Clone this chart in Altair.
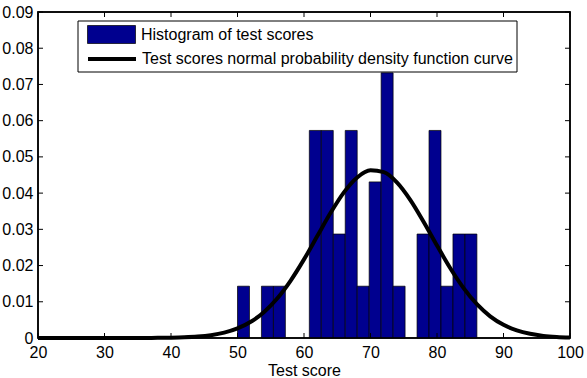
import altair as alt
import pandas as pd

FONT = "Liberation Sans"

# Histogram bins (score ranges) and heights (probability density)
bin_left = [50.0, 51.8, 53.6, 55.4, 57.2, 59.0, 60.8, 62.6, 64.4, 66.2,
            68.0, 69.8, 71.6, 73.4, 75.2, 77.0, 78.8, 80.6, 82.4, 84.2]
bin_right = [51.8, 53.6, 55.4, 57.2, 59.0, 60.8, 62.6, 64.4, 66.2, 68.0,
             69.8, 71.6, 73.4, 75.2, 77.0, 78.8, 80.6, 82.4, 84.2, 86.0]
density = [0.0143, 0.0, 0.0143, 0.0143, 0.0, 0.0, 0.0573, 0.0573, 0.0287, 0.0573,
           0.0143, 0.0431, 0.0732, 0.0143, 0.0, 0.0287, 0.0573, 0.0143, 0.0287, 0.0287]

# Normal pdf curve
curve_x = [20, 22, 24, 26, 28, 30, 32, 34, 36, 38, 40, 42, 44, 46, 48, 50, 52, 54, 56, 58,
           60, 62, 64, 66, 68, 70, 72, 74, 76, 78, 80, 82, 84, 86, 88, 90, 92, 94, 96, 98, 100]
curve_y = [0.0, 0.0, 0.0, 0.0, 0.0, 0.000001, 0.000002, 0.000005, 0.000014, 0.000035,
           0.000083, 0.000184, 0.000388, 0.000776, 0.00147, 0.00263, 0.00447, 0.00720,
           0.01098, 0.01587, 0.02170, 0.02814, 0.03456, 0.04021, 0.04432, 0.04628,
           0.04578, 0.04291, 0.03809, 0.03204, 0.02553, 0.01926, 0.01378, 0.00933,
           0.00599, 0.00364, 0.00210, 0.00115, 0.00059, 0.00029, 0.00013]

x_ticks = [20, 30, 40, 50, 60, 70, 80, 90, 100]
y_ticks = [0, 0.01, 0.02, 0.03, 0.04, 0.05, 0.06, 0.07, 0.08, 0.09]

hist_label = "Histogram of test scores"
curve_label = "Test scores normal probability density function curve"

W, H = 532, 326

hist_df = pd.DataFrame({"left": bin_left, "right": bin_right, "density": density})
hist_df = hist_df[hist_df["density"] > 0].copy()
hist_df["series"] = hist_label
curve_df = pd.DataFrame({"x": curve_x, "y": curve_y, "series": curve_label})
xt_df = pd.DataFrame({"v": x_ticks})
yt_df = pd.DataFrame({"v": y_ticks})

xs = alt.Scale(domain=[20, 100], nice=False, zero=False)
ys = alt.Scale(domain=[0, 0.09], nice=False)

XAX = alt.Axis(values=x_ticks, title="Test score", labelFlush=False)
YAX = alt.Axis(values=y_ticks, title="", labelFlush=False,
               labelExpr="datum.value == 0 ? '0' : format(datum.value, '.2f')")


def X(field):
    return alt.X(field, scale=xs, axis=XAX, title="Test score")


def Y(field):
    return alt.Y(field, scale=ys, axis=YAX, title="")


bars = alt.Chart(hist_df).mark_rect(stroke="black", strokeWidth=0.7).encode(
    x=X("left:Q"),
    x2="right:Q",
    y=Y("density:Q"),
    y2=alt.datum(0),
    color=alt.Color("series:N",
                    scale=alt.Scale(domain=[hist_label], range=["#00008F"]),
                    legend=alt.Legend(orient="none", legendX=49, legendY=-2, title=None,
                                      symbolType="M-1,-0.375H1V0.375H-1Z",
                                      symbolSize=2304, symbolStrokeColor="black",
                                      symbolStrokeWidth=0.7, symbolOpacity=1,
                                      labelFont=FONT, labelFontSize=16, labelLimit=0,
                                      labelColor="black", labelOffset=5, padding=0)),
)

curve = alt.Chart(curve_df).mark_line(strokeWidth=4, interpolate="monotone").encode(
    x=X("x:Q"),
    y=Y("y:Q"),
    stroke=alt.Stroke("series:N",
                      scale=alt.Scale(domain=[curve_label], range=["black"]),
                      legend=alt.Legend(orient="none", legendX=48, legendY=21, title=None,
                                        symbolType="stroke", symbolSize=2304,
                                        symbolStrokeWidth=4, labelLimit=0,
                                        labelFont=FONT, labelFontSize=16,
                                        labelColor="black", labelOffset=4, padding=0)),
)

xt_bottom = alt.Chart(xt_df).mark_rule(color="black", strokeWidth=1).encode(
    x=X("v:Q"), y=alt.value(H), y2=alt.value(H - 5))
xt_top = alt.Chart(xt_df).mark_rule(color="black", strokeWidth=1).encode(
    x=X("v:Q"), y=alt.value(0), y2=alt.value(5))
yt_left = alt.Chart(yt_df).mark_rule(color="black", strokeWidth=1).encode(
    y=Y("v:Q"), x=alt.value(0), x2=alt.value(5))
yt_right = alt.Chart(yt_df).mark_rule(color="black", strokeWidth=1).encode(
    y=Y("v:Q"), x=alt.value(W), x2=alt.value(W - 5))

one = pd.DataFrame({"a": [0]})
frame = alt.Chart(one).mark_rect(filled=False, stroke="black", strokeWidth=1.5).encode(
    x=alt.value(0), x2=alt.value(W), y=alt.value(0), y2=alt.value(H))

legend_box = alt.Chart(one).mark_rect(
    fill="white", stroke="black", strokeWidth=1).encode(
    x=alt.value(40), x2=alt.value(479), y=alt.value(9), y2=alt.value(60))

chart = alt.layer(bars, curve, xt_bottom, xt_top, yt_left, yt_right, frame, legend_box).properties(
    width=W, height=H,
    padding={"left": 38, "top": 12, "right": 17, "bottom": 40},
    autosize=alt.AutoSizeParams(type="none"),
    background="white",
).resolve_legend(color="independent", stroke="independent").configure_view(
    stroke="black", strokeWidth=1.5
).configure_axis(
    ticks=False, domain=False, grid=False, labelFlush=False,
    labelFont=FONT, labelFontSize=16, labelColor="black",
    titleFont=FONT, titleFontSize=16, titleFontWeight="normal", titleColor="black",
).configure_axisX(labelPadding=6, titlePadding=2).configure_axisY(labelPadding=5)

chart.save("out.html", embed_options={"renderer": "svg", "actions": False})
